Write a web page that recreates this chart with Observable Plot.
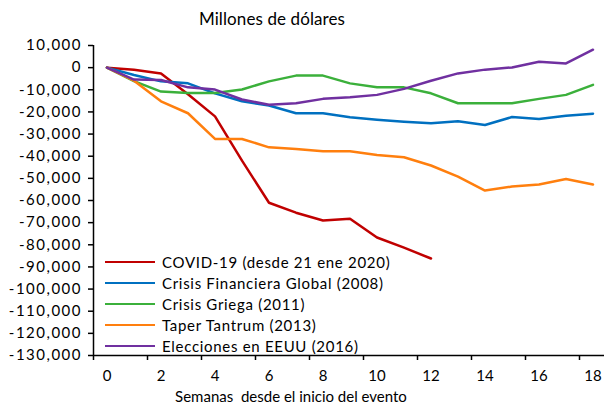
<!DOCTYPE html>
<html>
<head>
<meta charset="utf-8">
<script src="https://cdn.jsdelivr.net/npm/d3@7"></script>
<script src="https://cdn.jsdelivr.net/npm/@observablehq/plot@0.6"></script>
<style>
  html, body { margin: 0; padding: 0; background: #fff; }
  #wrap { position: relative; width: 604px; height: 405px; overflow: hidden; font-family: Lato, "Open Sans", sans-serif; color: #000; }
  #wrap svg { position: absolute; left: 0; top: 0; }
  #subtitle { position: absolute; top: 8px; left: 162px; width: 220px; text-align: center; font-size: 17px; letter-spacing: 0.1px; }
  #legend { position: absolute; left: 105px; top: 251px; font-size: 15px; letter-spacing: 0.7px; }
  .row { display: flex; align-items: center; height: 21px; }
  .sw { width: 50px; height: 0; border-top: 2.5px solid; margin-right: 7px; }
</style>
</head>
<body>
<div id="wrap">
  <div id="subtitle">Millones de dólares</div>
  <div id="legend"></div>
</div>
<script>
const weeks = [0,1,2,3,4,5,6,7,8,9,10,11,12,13,14,15,16,17,18];
const seriesNames = ["COVID-19 (desde 21 ene 2020)", "Crisis Financiera Global (2008)", "Crisis Griega (2011)", "Taper Tantrum (2013)", "Elecciones en EEUU (2016)"];
const seriesColors = ["#C00000", "#0070C0", "#3BB03B", "#FF7F0E", "#7030A0"];
const covid = [0,-1000,-2600,-12000,-22000,-42000,-61000,-65500,-69000,-68200,-76700,-81300,-86200];
const gfc = [0,-3300,-6200,-7100,-11600,-15200,-17100,-20600,-20600,-22400,-23500,-24400,-25100,-24200,-25900,-22300,-23200,-21700,-20800];
const greek = [0,-6100,-10800,-11400,-11400,-9900,-6200,-3600,-3600,-7100,-8900,-8900,-11600,-16100,-16100,-16100,-14100,-12300,-7800];
const taper = [0,-5900,-15200,-20600,-32200,-32200,-36000,-36700,-37800,-37800,-39400,-40500,-44200,-49200,-55500,-53700,-52800,-50300,-52800];
const usElec = [0,-5400,-5600,-8900,-9900,-14400,-16800,-16100,-14100,-13400,-12300,-9600,-5900,-2600,-900,100,2700,1900,8100];
const yTicks = [10000,0,-10000,-20000,-30000,-40000,-50000,-60000,-70000,-80000,-90000,-100000,-110000,-120000,-130000];
const xLabels = [0,2,4,6,8,10,12,14,16,18];
const xTickMarks = [-0.5,1.5,3.5,5.5,7.5,9.5,11.5,13.5,15.5,17.5];

const allSeries = [covid, gfc, greek, taper, usElec];
const data = allSeries.flatMap((vals, i) => vals.map((v, j) => ({week: weeks[j], value: v, series: seriesNames[i]})));
const fmt = d => d.toLocaleString("en-US");

const chart = Plot.plot({
  width: 604,
  height: 405,
  marginLeft: 93,
  marginRight: 0,
  marginTop: 45,
  marginBottom: 50,
  style: {fontFamily: "Lato, 'Open Sans', sans-serif", fontSize: "15px", color: "#000", background: "transparent"},
  x: {domain: [-0.5, 18.426]},
  y: {domain: [-130000, 10000]},
  color: {domain: seriesNames, range: seriesColors},
  marks: [
    Plot.axisY({ticks: yTicks, tickSize: 5, tickPadding: 6.5, tickFormat: fmt, fontSize: 15, stroke: "#000", strokeWidth: 1.5, label: null}),
    Plot.axisX({ticks: xTickMarks, tickSize: 5, tickFormat: () => "", stroke: "#000", strokeWidth: 1.5, label: null}),
    Plot.axisX({ticks: xLabels, tickSize: 0, tickPadding: 15, tickFormat: d => String(d), fontSize: 15, label: null}),
    Plot.ruleX([-0.5], {y1: -130000, y2: 10000, stroke: "#000", strokeWidth: 1.5}),
    Plot.ruleY([-130000], {stroke: "#000", strokeWidth: 1.5}),
    Plot.line(data, {x: "week", y: "value", z: "series", stroke: "series", strokeWidth: 2.5}),
    Plot.text(["Semanas  desde el inicio del evento"], {frameAnchor: "bottom", dy: 46, dx: -58, fontSize: 15, text: d => d, style: "white-space:pre"})
  ]
});
document.getElementById("wrap").prepend(chart);
d3.select(chart).selectAll("g[aria-label='y-axis tick label'] text").style("letter-spacing", "1.5px");

const legend = document.getElementById("legend");
seriesNames.forEach((n, i) => {
  const row = document.createElement("div");
  row.className = "row";
  const sw = document.createElement("div");
  sw.className = "sw";
  sw.style.borderColor = seriesColors[i];
  const t = document.createElement("span");
  t.textContent = n;
  row.appendChild(sw);
  row.appendChild(t);
  legend.appendChild(row);
});
</script>
</body>
</html>
